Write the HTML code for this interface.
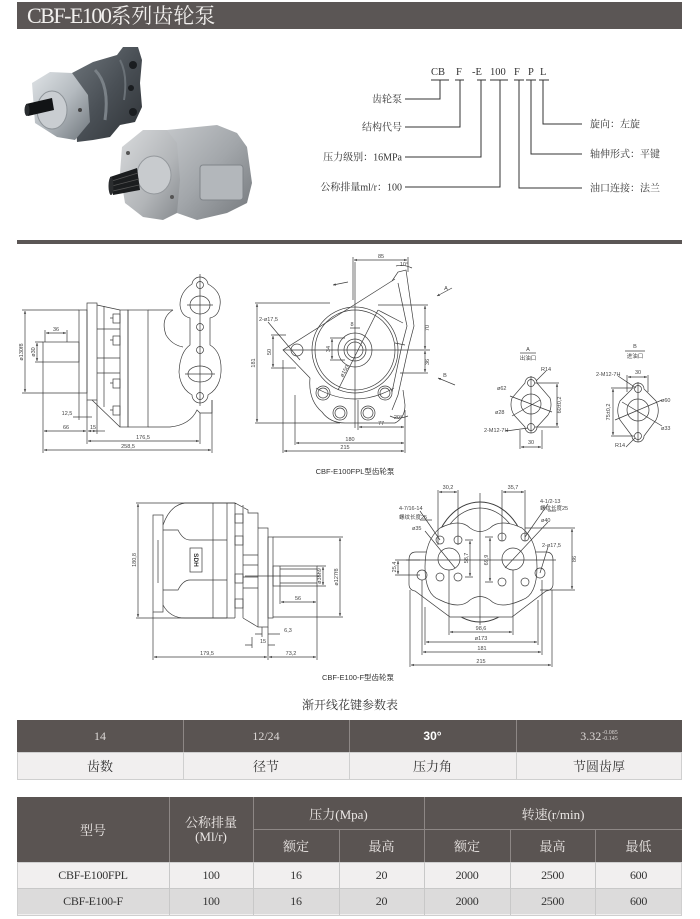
<!DOCTYPE html>
<html><head><meta charset="utf-8">
<style>
html,body{margin:0;padding:0;}
body{width:700px;height:919px;background:#fff;position:relative;overflow:hidden;font-family:"Liberation Serif","Noto Serif CJK SC",serif;}
.a{position:absolute;}
.hdr{left:17px;top:2px;width:665px;height:27px;background:#5b5655;color:#f2f0ee;font-size:21px;line-height:27px;white-space:nowrap;font-weight:normal;}
.hdr .lat{font-size:22px;letter-spacing:-1.5px;}
.bar{left:17px;top:240px;width:665px;height:4px;background:#5b5655;}
.cell{position:absolute;display:flex;align-items:center;justify-content:center;text-align:center;white-space:nowrap;}
.dk{background:#5a5452;}
.t1d{color:#dcd8d6;font-size:12px;}
.t1l{color:#333;font-size:13px;}
.th{color:#ece8e6;font-size:13px;}
.td{color:#333;font-size:12px;letter-spacing:-0.3px;}
.vl{position:absolute;width:1px;}
.hl{position:absolute;height:1px;}
</style></head>
<body>

<div class="a hdr"><span style="padding-left:10px"><span class="lat">CBF-E100</span>系列齿轮泵</span></div>
<div class="a bar"></div>

<svg class="a" style="left:0;top:0" width="700" height="919" viewBox="0 0 700 919" xmlns="http://www.w3.org/2000/svg">
<defs>
<marker id="ar" viewBox="0 0 6 6" refX="6" refY="3" markerWidth="4" markerHeight="4" orient="auto-start-reverse"><path d="M0,0.5 L6,3 L0,5.5z" fill="#3c3c3c"/></marker>
<linearGradient id="g1" x1="0" y1="0" x2="1" y2="1"><stop offset="0" stop-color="#dfe3e6"/><stop offset="0.5" stop-color="#b4babf"/><stop offset="1" stop-color="#6f767c"/></linearGradient>
<linearGradient id="g2" x1="0" y1="0" x2="1" y2="1"><stop offset="0" stop-color="#6f767c"/><stop offset="0.5" stop-color="#4a5056"/><stop offset="1" stop-color="#2e3236"/></linearGradient>
<linearGradient id="g3" x1="0" y1="0" x2="1" y2="1"><stop offset="0" stop-color="#d8dadc"/><stop offset="0.6" stop-color="#b2b5b8"/><stop offset="1" stop-color="#868a8e"/></linearGradient>
<linearGradient id="g4" x1="0" y1="0" x2="1" y2="1"><stop offset="0" stop-color="#c4c7ca"/><stop offset="0.5" stop-color="#a2a6aa"/><stop offset="1" stop-color="#74787c"/></linearGradient>
</defs>
<style>
.l{fill:none;stroke:#3c3c3c;stroke-width:.7}
.th2{fill:none;stroke:#3c3c3c;stroke-width:1}
.dm{marker-start:url(#ar);marker-end:url(#ar)}
.t{font-family:"Liberation Sans","Noto Sans CJK SC",sans-serif;font-size:5.5px;fill:#444}
.tm{text-anchor:middle}
.cap{font-family:"Liberation Sans","Noto Sans CJK SC",sans-serif;font-size:7.5px;fill:#333;text-anchor:middle}
.lb{font-family:"Liberation Serif","Noto Serif CJK SC",serif;font-size:10px;fill:#333}
.cd{font-family:"Liberation Serif",serif;font-size:10.5px;fill:#333}
.ln{fill:none;stroke:#333;stroke-width:1}
</style>

<!-- ===== pump photos ===== -->
<polygon points="72,73 93,62 117,55 123,47 138,47 142,60 140,83 142,107 135,122 120,125 110,137 93,140 77,142" fill="url(#g2)"/>
<path d="M95,70 Q110,85 105,120" stroke="#7a8187" stroke-width="3" fill="none"/>
<path d="M120,60 Q128,75 124,100" stroke="#6a7177" stroke-width="2" fill="none"/>
<circle cx="133" cy="65" r="4" fill="#1a1d20"/>
<circle cx="133" cy="112" r="4" fill="#1a1d20"/>
<circle cx="131" cy="88" r="3" fill="#1a1d20"/>
<polygon points="32,83 50,72 72,73 88,95 90,122 75,140 57,137 35,123" fill="url(#g1)"/>
<ellipse cx="52" cy="110" rx="15" ry="19" fill="#c9cdd1" stroke="#8d9398" stroke-width="1"/>
<polygon points="26,104 52,98 54,110 28,116" fill="#121416"/>
<ellipse cx="27" cy="110" rx="2.5" ry="6" fill="#2a2d30"/>
<circle cx="80" cy="110" r="2" fill="#444"/>
<polygon points="167,130 187,128 217,125 237,133 247,147 252,183 247,203 227,213 197,220 177,213" fill="url(#g4)"/>
<rect x="200" y="165" width="43" height="35" rx="3" fill="#b3b7bb" stroke="#80858a" stroke-width="1"/>
<polygon points="122,147 143,130 167,130 177,143 180,180 177,213 163,220 143,217 125,203 120,173" fill="url(#g3)"/>
<ellipse cx="154" cy="175" rx="17" ry="19" fill="#c8cbce" stroke="#94989c" stroke-width="1"/>
<polygon points="110,177 137,168 140,190 113,195" fill="#1b1d1f"/>
<path d="M112,181 L138,173 M112,186 L139,179 M113,191 L139,185" stroke="#555" stroke-width="0.8"/>
<ellipse cx="111" cy="186" rx="2.5" ry="9" fill="#2b2d2f"/>
<circle cx="128" cy="153" r="2" fill="#555"/>
<circle cx="172" cy="197" r="2" fill="#555"/>

<!-- ===== model code ===== -->
<text class="cd" x="431" y="75">CB</text>
<text class="cd" x="456" y="75">F</text>
<text class="cd" x="472" y="75">-E</text>
<text class="cd" x="490" y="75">100</text>
<text class="cd" x="514" y="75">F</text>
<text class="cd" x="528" y="75">P</text>
<text class="cd" x="540" y="75">L</text>
<path class="ln" d="M431,80 H449 M455,80 H464 M477,80 H486 M490,80 H508 M514,80 H524 M526,80 H536 M539,80 H549"/>
<path class="ln" d="M440,80 V99 H405 M460,80 V127 H405 M481,80 V157 H405 M500,80 V187 H405 M519,80 V188 H582 M531,80 V154 H582 M543,80 V124 H582"/>
<text class="lb" x="402" y="102.5" text-anchor="end">齿轮泵</text>
<text class="lb" x="402" y="130.5" text-anchor="end">结构代号</text>
<text class="lb" x="402" y="160.5" text-anchor="end">压力级别：16MPa</text>
<text class="lb" x="402" y="190.5" text-anchor="end">公称排量ml/r：100</text>
<text class="lb" x="590" y="127.5">旋向：左旋</text>
<text class="lb" x="590" y="157.5">轴伸形式：平键</text>
<text class="lb" x="590" y="191.5">油口连接：法兰</text>

<!-- ===== drawing 1 left view ===== -->
<path class="l" d="M22,310 H79 M22,393 H79 M35,342 H43 M35,362 H43 M45,330 V342 M67,330 V342 M43,362 V453 M87,400 V444 M79,393 V420 M97,400 V434 M200,413 V444 M212,400 V453 M73,417 H79"/>
<path class="l dm" d="M25,311 V392"/>
<path class="l dm" d="M37,343 V361"/>
<path class="l dm" d="M46,333 H66"/>
<path class="l" d="M79,417 H92"/>
<path class="l dm" d="M44,431 H86"/>
<path class="l dm" d="M88,431 H96"/>
<path class="l" d="M96,431 H105"/>
<path class="l dm" d="M88,441 H199"/>
<path class="l dm" d="M44,450 H211"/>
<rect class="l" x="43" y="342" width="36" height="20"/>
<rect class="l" x="79" y="310" width="8" height="83"/>
<rect class="l" x="87" y="303" width="10" height="97"/>
<path class="l" d="M97,305 L120,310 M92,400 L120,427 M97,329 H120 M97,358 H120 M97,373 H120 M104,306 V407"/>
<rect class="l" x="113" y="314" width="7" height="9"/>
<rect class="l" x="113" y="336" width="7" height="9"/>
<rect class="l" x="113" y="379" width="7" height="9"/>
<rect class="l" x="113" y="406" width="7" height="9"/>
<path class="l" d="M110,318 H113 M110,340 H113 M110,383 H113 M110,410 H113"/>
<rect class="l" x="120" y="310" width="8" height="117"/>
<rect class="l" x="128" y="310" width="20" height="117"/>
<path class="l" d="M148,310 H173 M173,310 Q160,318 166,335 Q172,345 183,347 M148,427 H170 Q190,425 197,410 L200,413 H212 V400"/>
<path class="l" d="M200,277 A8,8 0 0 1 208,284 Q222,292 220,305 Q219,316 210,318 L210,345 Q222,352 221,372 Q220,388 208,395 A8,8 0 0 1 192,395 Q180,388 179,372 Q180,352 190,345 L190,318 Q181,316 180,305 Q180,292 192,284 A8,8 0 0 1 200,277 Z"/>
<ellipse class="l" cx="200" cy="305" rx="10" ry="9"/>
<ellipse class="l" cx="200" cy="374" rx="12" ry="8"/>
<circle class="l" cx="200" cy="285" r="3.5"/>
<circle class="l" cx="200" cy="327" r="3.5"/>
<circle class="l" cx="200" cy="350" r="3.5"/>
<circle class="l" cx="200" cy="396" r="3.5"/>
<path class="l" d="M200,274 V406 M187,305 H213 M185,374 H215" stroke-width=".4"/>
<text class="t tm" transform="rotate(-90 23 352)" x="23" y="352">ø130f8</text>
<text class="t tm" transform="rotate(-90 35 352)" x="35" y="352">ø30</text>
<text class="t tm" x="56" y="331">36</text>
<text class="t tm" x="67" y="415">12,5</text>
<text class="t tm" x="66" y="429">66</text>
<text class="t tm" x="93" y="429">15</text>
<text class="t tm" x="143" y="439">176,5</text>
<text class="t tm" x="128" y="448">258,5</text>

<!-- ===== drawing 1 middle view ===== -->
<circle class="l" cx="355" cy="350" r="43"/>
<circle class="l" cx="355" cy="350" r="40"/>
<circle class="l" cx="355" cy="350" r="17"/>
<circle class="l" cx="355" cy="350" r="11"/>
<circle class="l" cx="355" cy="350" r="8"/>
<path class="l" d="M395,279 L283,350 L310,378 M310,378 Q308,400 322,412 Q330,423 345,423 L395,423 Q405,418 405,405 L403,390"/>
<path class="l" d="M392,281 L398,272 L406,270 L414,326 L409,345 L398,395 L392,410 M398,283 L407,326 L402,345 L392,392 M378,310 L403,323 M395,343 L405,345 M316,388 Q355,410 394,388"/>
<circle class="l" cx="323" cy="393" r="7"/><circle class="l" cx="323" cy="393" r="5"/>
<circle class="l" cx="385" cy="393" r="7"/><circle class="l" cx="385" cy="393" r="5"/>
<circle class="l" cx="340" cy="413" r="7"/><circle class="l" cx="340" cy="413" r="5"/>
<circle class="l" cx="368" cy="413" r="7"/><circle class="l" cx="368" cy="413" r="5"/>
<circle class="l" cx="297" cy="350" r="6"/>
<path class="l" d="M283,350 H430 M355,262 V428" stroke-width=".5"/>
<path class="l" d="M353,257 V300 M408,257 V272 M255,303 H330 M255,423 H340 M271,335 H286 M271,368 H296 M330,338 H345 M330,360 H345 M378,305 H428 M400,373 H428 M283,360 V453 M295,395 V445 M405,410 V453 M358,400 V430 M268,322 L300,360 M338,390 L378,310"/>
<path class="l dm" d="M354,260 H407"/>
<path class="l dm" d="M257,304 V422"/>
<path class="l dm" d="M273,336 V367"/>
<path class="l dm" d="M332,339 V359"/>
<path class="l dm" d="M425,306 V349"/>
<path class="l dm" d="M425,351 V372"/>
<path class="l dm" d="M359,427 H404"/>
<path class="l dm" d="M296,443 H404"/>
<path class="l dm" d="M284,451 H404"/>
<path class="l" d="M350,328 H360 M396,266 Q403,264 412,268 M390,416 Q398,420 408,416"/>
<path class="l" d="M348,282 L333,285" marker-end="url(#ar)"/>
<path class="l" d="M452,288 L437,296" marker-end="url(#ar)"/>
<path class="l" d="M455,385 L438,378" marker-end="url(#ar)"/>
<text class="t tm" x="381" y="258">85</text>
<text class="t tm" x="404" y="266">10°</text>
<text class="t tm" x="446" y="290">A</text>
<text class="t tm" x="445" y="377">B</text>
<text class="t tm" transform="rotate(-90 255 363)" x="255" y="363">181</text>
<text class="t" x="259" y="321">2-ø17,5</text>
<text class="t tm" transform="rotate(-90 271 352)" x="271" y="352">50</text>
<text class="t tm" transform="rotate(-90 330 349)" x="330" y="349">34</text>
<text class="t tm" x="352" y="326">8</text>
<text class="t tm" transform="rotate(-60 346 372)" x="346" y="372">ø150</text>
<text class="t tm" transform="rotate(-90 429 328)" x="429" y="328">70</text>
<text class="t tm" transform="rotate(-90 429 362)" x="429" y="362">36</text>
<text class="t tm" x="398" y="419">20°</text>
<text class="t tm" x="381" y="425">77</text>
<text class="t tm" x="350" y="441">180</text>
<text class="t tm" x="345" y="449">215</text>
<text class="cap" x="355" y="474">CBF-E100FPL型齿轮泵</text>

<!-- ===== flange A ===== -->
<text class="t tm" x="528" y="351">A</text>
<path class="l" d="M520,353 H536"/>
<text class="t tm" x="528" y="360">出油口</text>
<path class="l" d="M525,383 A6,6 0 0 1 537,383 L550,398 A21,21 0 0 1 548,415 L537,427 A6,6 0 0 1 525,427 L514,415 A21,21 0 0 1 512,398 Z"/>
<circle class="l" cx="531" cy="404" r="10"/>
<circle class="l" cx="531" cy="383" r="3.5"/>
<circle class="l" cx="531" cy="427" r="3.5"/>
<path class="l" d="M531,376 V433 M510,396 L552,412 M540,400 L512,416 M536,381 L546,371 M506,431 L528,428 M535,383 H559 M535,427 H559 M520,430 V449 M542,430 V449" stroke-width=".5"/>
<path class="l dm" d="M557,384 V426"/>
<path class="l dm" d="M521,447 H541"/>
<text class="t" x="541" y="371">R14</text>
<text class="t" x="497" y="390">ø62</text>
<text class="t" x="495" y="414">ø28</text>
<text class="t" x="484" y="432">2-M12-7H</text>
<text class="t tm" transform="rotate(-90 561 405)" x="561" y="405">60±0,2</text>
<text class="t tm" x="531" y="444">30</text>

<!-- ===== flange B ===== -->
<text class="t tm" x="635" y="348">B</text>
<path class="l" d="M625,351 H645"/>
<text class="t tm" x="635" y="358">进油口</text>
<path class="l" d="M632,389 A6,6 0 0 1 644,389 L656,401 A22,22 0 0 1 656,420 L644,436 A6,6 0 0 1 632,436 L620,420 A22,22 0 0 1 620,401 Z"/>
<circle class="l" cx="638" cy="410" r="11"/>
<circle class="l" cx="638" cy="389" r="3.5"/>
<circle class="l" cx="638" cy="436" r="3.5"/>
<path class="l" d="M638,382 V442 M615,420 L662,400 M622,402 L662,426 M618,376 L636,388 M626,447 L635,438 M611,388 H634 M611,436 H634 M627,375 V392 M648,375 V392" stroke-width=".5"/>
<path class="l dm" d="M613,389 V435"/>
<path class="l dm" d="M628,377 H647"/>
<text class="t" x="596" y="376">2-M12-7H</text>
<text class="t tm" x="638" y="374">30</text>
<text class="t" x="661" y="402">ø60</text>
<text class="t" x="661" y="430">ø33</text>
<text class="t tm" transform="rotate(-90 610 412)" x="610" y="412">75±0,2</text>
<text class="t" x="615" y="447">R14</text>

<!-- ===== drawing 2 left ===== -->
<path class="l" d="M136,503 H235 M136,618 H235 M153,612 V660 M268,627 V660 M317,586 V660 M273,537 H343 M273,617 H343 M317,566 H326 M317,586 H326 M280,586 V604 M262,627 V637 M252,637 V648"/>
<path class="l dm" d="M138,504 V617"/>
<path class="l dm" d="M323,567 V585"/>
<path class="l dm" d="M340,538 V616"/>
<path class="l dm" d="M281,602 H316"/>
<path class="l" d="M255,634 H262 M268,634 H280" />
<path class="l dm" d="M154,657 H267"/>
<path class="l dm" d="M269,657 H316"/>
<path class="l" d="M245,645 H252 M268,645 H275"/>
<rect class="l" x="153" y="515" width="10" height="97"/>
<path class="l" d="M163,525 Q170,505 185,503 H227 M163,605 Q170,618 185,618 H227 M163,530 H178 Q183,540 190,540 H227 M163,590 H178 Q183,580 190,580 H227 M213,503 V618 M227,503 V618 M158,540 V583"/>
<rect class="l" x="190" y="548" width="12" height="24"/>
<text transform="rotate(90 196 560)" x="196" y="562" style="font-family:'Liberation Sans',sans-serif;font-size:6.5px;font-weight:bold;fill:#333;text-anchor:middle">SDH</text>
<path class="l" d="M227,503 H235 L248,510 V513 H258 V528 M235,503 V618 M243,505 V618 M243,618 L258,627 M243,555 H258 M243,565 H258 M243,577 H258 M243,588 H258"/>
<rect class="l" x="235" y="514" width="8" height="9"/>
<rect class="l" x="235" y="536" width="8" height="9"/>
<rect class="l" x="235" y="574" width="8" height="9"/>
<rect class="l" x="235" y="599" width="8" height="9"/>
<rect class="l" x="258" y="528" width="10" height="99"/>
<rect class="l" x="268" y="537" width="5" height="81"/>
<rect class="l" x="273" y="566" width="44" height="20"/>
<path class="l" d="M280,566 V586 M280,569 H317 M280,583 H317 M245,576 H320" stroke-width=".5"/>
<text class="t tm" transform="rotate(-90 136 560)" x="136" y="560">180,8</text>
<text class="t tm" transform="rotate(-90 321 576)" x="321" y="576">ø35h9</text>
<text class="t tm" transform="rotate(-90 338 577)" x="338" y="577">ø127f8</text>
<text class="t tm" x="298" y="600">56</text>
<text class="t tm" x="288" y="632">6,3</text>
<text class="t tm" x="263" y="643">15</text>
<text class="t tm" x="207" y="655">179,5</text>
<text class="t tm" x="291" y="655">73,2</text>
<text class="cap" x="358" y="680">CBF-E100-F型齿轮泵</text>

<!-- ===== drawing 2 right ===== -->
<ellipse class="th2" cx="480" cy="562" rx="47" ry="60"/>
<ellipse class="l" cx="480" cy="562" rx="42" ry="54"/>
<path class="l" style="fill:#fff" d="M416,552 H546 Q553,552 553,560 V584 Q553,590 546,591 L512,617 H450 L415,591 Q409,590 409,584 V560 Q409,552 416,552 Z"/>
<path class="l" style="fill:#fff" d="M440,528 Q460,518 470,528 Q480,535 490,528 Q500,518 522,528 Q537,540 537,567 Q537,595 522,600 Q500,610 490,600 Q480,593 470,600 Q460,610 440,600 Q425,595 425,567 Q425,540 440,528 Z"/>
<circle class="l" cx="449" cy="559" r="11"/>
<circle class="l" cx="513" cy="559" r="11"/>
<circle class="l" cx="440" cy="540" r="4"/><circle class="l" cx="458" cy="540" r="4"/>
<circle class="l" cx="440" cy="577" r="4"/><circle class="l" cx="458" cy="577" r="4"/>
<circle class="l" cx="502" cy="537" r="4"/><circle class="l" cx="525" cy="537" r="4"/>
<circle class="l" cx="502" cy="582" r="4"/><circle class="l" cx="525" cy="582" r="4"/>
<circle class="l" cx="422" cy="575" r="5"/><circle class="l" cx="540" cy="573" r="5"/>
<path class="l" d="M480,493 V625 M406,560 H556" stroke-width=".5"/>
<path class="l" d="M438,490 V545 M458,490 V545 M502,490 V541 M525,490 V541 M525,528 H575 M540,590 H575 M395,560 H420 M395,575 H420 M465,540 H473 M465,577 H473 M485,537 H493 M485,582 H493 M410,590 V667 M422,580 V655 M425,607 V645 M449,570 V635 M513,570 V635 M538,600 V645 M542,580 V655 M552,590 V667"/>
<path class="l" d="M420,511 L440,540 M420,520 H432 M425,531 L455,568 M548,504 L525,537 M548,511 H556 M548,522 L505,568 M548,547 L540,573" stroke-width=".5"/>
<path class="l dm" d="M439,492 H457"/>
<path class="l dm" d="M503,492 H524"/>
<path class="l dm" d="M572,529 V589"/>
<path class="l dm" d="M398,561 V574"/>
<path class="l dm" d="M470,541 V576"/>
<path class="l dm" d="M490,538 V581"/>
<path class="l dm" d="M450,632 H512"/>
<path class="l dm" d="M426,642 H537"/>
<path class="l dm" d="M423,652 H541"/>
<path class="l dm" d="M411,665 H551"/>
<text class="t tm" x="448" y="489">30,2</text>
<text class="t tm" x="513" y="489">35,7</text>
<text class="t" x="399" y="510">4-7/16-14</text>
<text class="t" x="399" y="519">螺纹长度25</text>
<text class="t" x="412" y="530">ø35</text>
<text class="t" x="540" y="503">4-1/2-13</text>
<text class="t" x="540" y="510">螺纹长度25</text>
<text class="t" x="541" y="522">ø40</text>
<text class="t" x="542" y="547">2-ø17,5</text>
<text class="t tm" transform="rotate(-90 576 559)" x="576" y="559">86</text>
<text class="t tm" transform="rotate(-90 396 567)" x="396" y="567">25,4</text>
<text class="t tm" transform="rotate(-90 468 558)" x="468" y="558">58,7</text>
<text class="t tm" transform="rotate(-90 488 560)" x="488" y="560">69,9</text>
<text class="t tm" x="481" y="630">98,6</text>
<text class="t tm" x="481" y="640">ø173</text>
<text class="t tm" x="482" y="650">181</text>
<text class="t tm" x="481" y="663">215</text>

<text x="350" y="709" style="font-family:'Liberation Serif','Noto Serif CJK SC',serif;font-size:12px;fill:#333;text-anchor:middle">渐开线花键参数表</text>
</svg>

<!-- ===== Table 1 ===== -->
<div class="a dk" style="left:17px;top:720px;width:665px;height:32px;"></div>
<div class="a" style="left:17px;top:752px;width:663px;height:26px;background:#f1efef;border:1px solid #cfcfcf;"></div>
<div class="vl" style="left:183px;top:720px;height:32px;background:#8d8785"></div>
<div class="vl" style="left:349px;top:720px;height:32px;background:#8d8785"></div>
<div class="vl" style="left:516px;top:720px;height:32px;background:#8d8785"></div>
<div class="vl" style="left:183px;top:752px;height:27px;background:#cfcfcf"></div>
<div class="vl" style="left:349px;top:752px;height:27px;background:#cfcfcf"></div>
<div class="vl" style="left:516px;top:752px;height:27px;background:#cfcfcf"></div>
<div class="cell t1d" style="left:17px;top:720px;width:166px;height:32px;">14</div>
<div class="cell t1d" style="left:183px;top:720px;width:166px;height:32px;">12/24</div>
<div class="cell" style="left:349px;top:720px;width:167px;height:32px;color:#fff;font-family:'Liberation Sans',sans-serif;font-weight:bold;font-size:12px;">30°</div>
<div class="cell t1d" style="left:516px;top:720px;width:166px;height:32px;">3.32<span style="display:inline-block;font-size:6px;line-height:6px;text-align:left;margin-left:1px">-0.085<br>-0.145</span></div>
<div class="cell t1l" style="left:17px;top:752px;width:166px;height:27px;">齿数</div>
<div class="cell t1l" style="left:183px;top:752px;width:166px;height:27px;">径节</div>
<div class="cell t1l" style="left:349px;top:752px;width:167px;height:27px;">压力角</div>
<div class="cell t1l" style="left:516px;top:752px;width:166px;height:27px;">节圆齿厚</div>

<!-- ===== Table 2 ===== -->
<div class="a dk" style="left:17px;top:797px;width:665px;height:65px;"></div>
<div class="a" style="left:17px;top:862px;width:663px;height:52px;background:#f1efef;border:1px solid #cfcfcf;"></div>
<div class="a" style="left:18px;top:888px;width:663px;height:26px;background:#dcdbdb;"></div>
<div class="hl" style="left:17px;top:888px;width:665px;background:#c8c8c8"></div>
<div class="vl" style="left:169px;top:797px;height:65px;background:#8d8785"></div>
<div class="vl" style="left:253px;top:797px;height:65px;background:#8d8785"></div>
<div class="vl" style="left:424px;top:797px;height:65px;background:#8d8785"></div>
<div class="vl" style="left:339px;top:829px;height:33px;background:#8d8785"></div>
<div class="vl" style="left:510px;top:829px;height:33px;background:#8d8785"></div>
<div class="vl" style="left:595px;top:829px;height:33px;background:#8d8785"></div>
<div class="hl" style="left:253px;top:829px;width:429px;background:#8d8785"></div>
<div class="vl" style="left:169px;top:862px;height:53px;background:#c8c8c8"></div>
<div class="vl" style="left:253px;top:862px;height:53px;background:#c8c8c8"></div>
<div class="vl" style="left:339px;top:862px;height:53px;background:#c8c8c8"></div>
<div class="vl" style="left:424px;top:862px;height:53px;background:#c8c8c8"></div>
<div class="vl" style="left:510px;top:862px;height:53px;background:#c8c8c8"></div>
<div class="vl" style="left:595px;top:862px;height:53px;background:#c8c8c8"></div>

<div class="cell th" style="left:17px;top:797px;width:152px;height:65px;">型号</div>
<div class="cell th" style="left:169px;top:797px;width:84px;height:65px;line-height:14px;">公称排量<br>(Ml/r)</div>
<div class="cell th" style="left:253px;top:797px;width:171px;height:32px;">压力(Mpa)</div>
<div class="cell th" style="left:424px;top:797px;width:258px;height:32px;">转速(r/min)</div>
<div class="cell th" style="left:253px;top:829px;width:86px;height:33px;">额定</div>
<div class="cell th" style="left:339px;top:829px;width:85px;height:33px;">最高</div>
<div class="cell th" style="left:424px;top:829px;width:86px;height:33px;">额定</div>
<div class="cell th" style="left:510px;top:829px;width:85px;height:33px;">最高</div>
<div class="cell th" style="left:595px;top:829px;width:87px;height:33px;">最低</div>

<div class="cell td" style="left:17px;top:862px;width:152px;height:26px;">CBF-E100FPL</div>
<div class="cell td" style="left:169px;top:862px;width:84px;height:26px;">100</div>
<div class="cell td" style="left:253px;top:862px;width:86px;height:26px;">16</div>
<div class="cell td" style="left:339px;top:862px;width:85px;height:26px;">20</div>
<div class="cell td" style="left:424px;top:862px;width:86px;height:26px;">2000</div>
<div class="cell td" style="left:510px;top:862px;width:85px;height:26px;">2500</div>
<div class="cell td" style="left:595px;top:862px;width:87px;height:26px;">600</div>

<div class="cell td" style="left:17px;top:888px;width:152px;height:27px;">CBF-E100-F</div>
<div class="cell td" style="left:169px;top:888px;width:84px;height:27px;">100</div>
<div class="cell td" style="left:253px;top:888px;width:86px;height:27px;">16</div>
<div class="cell td" style="left:339px;top:888px;width:85px;height:27px;">20</div>
<div class="cell td" style="left:424px;top:888px;width:86px;height:27px;">2000</div>
<div class="cell td" style="left:510px;top:888px;width:85px;height:27px;">2500</div>
<div class="cell td" style="left:595px;top:888px;width:87px;height:27px;">600</div>

</body></html>
